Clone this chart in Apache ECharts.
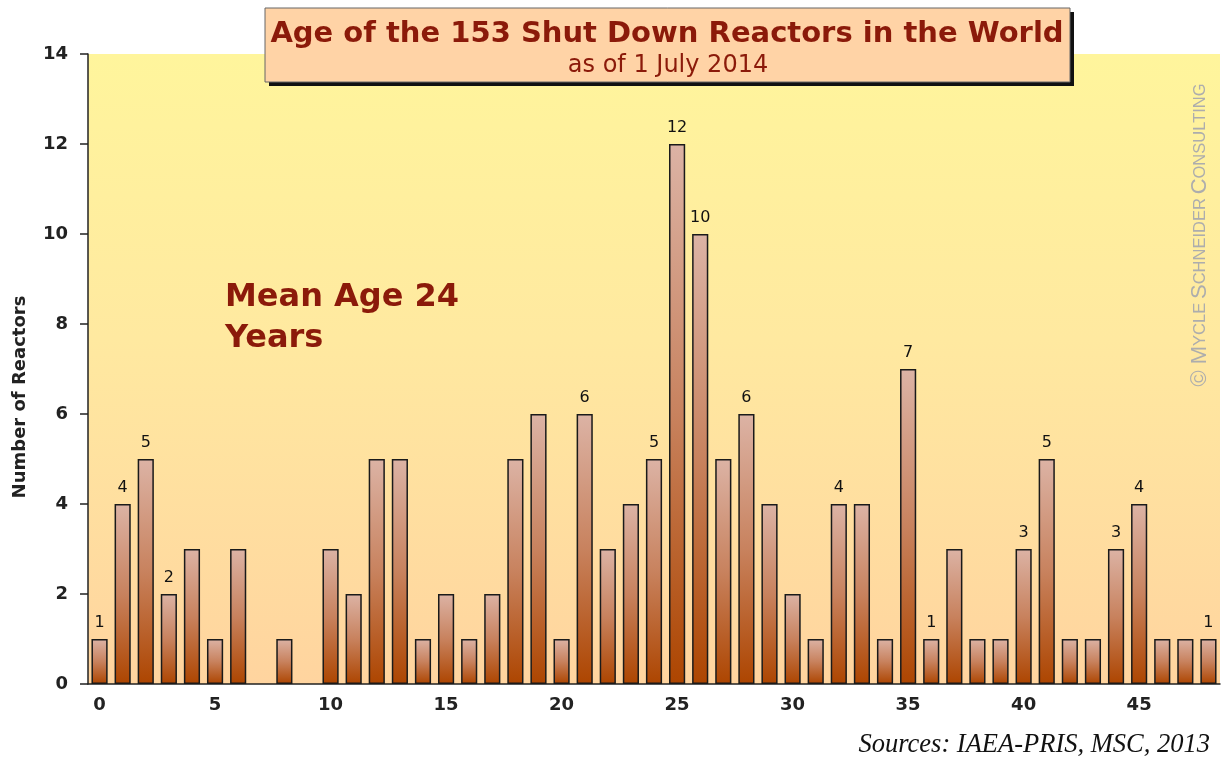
<!doctype html>
<html>

<head>
    <meta charset="utf-8">
    <title>Shut Down Reactors Age</title>
    <script src="https://cdn.jsdelivr.net/npm/echarts@6/dist/echarts.min.js"></script>
</head>

<body style="margin:0;background:#fff;">
    <div id="container" style="width:1224px;height:760px;"></div>

    <script type="text/javascript">
        // ages (years) 0..48
        var ages = [];
        for (var a = 0; a <= 48; a++) ages.push(String(a));
        // number of reactors per age
        var reactors = [1, 4, 5, 2, 3, 1, 3, 0, 1, 0,
            3, 2, 5, 5, 1, 2, 1, 2, 5, 6,
            1, 6, 3, 4, 5, 12, 10, 5, 6, 4,
            2, 1, 4, 4, 1, 7, 1, 3, 1, 1,
            3, 5, 1, 1, 3, 4, 1, 1, 1];
        // ages whose bar gets a value label
        var labeledAges = [0, 1, 2, 3, 21, 24, 25, 26, 28, 32, 35, 36, 40, 41, 44, 45, 48];

        var darkRed = '#8b1a0a';
        var axisFont = 'DejaVu Sans';

        var barData = reactors.map(function(v, i) {
            if (v === 0) return { value: v, itemStyle: { borderWidth: 0 } };
            return {
                value: v,
                label: { show: labeledAges.indexOf(i) >= 0 }
            };
        });

        var option = {
            animation: false,
            grid: {
                left: 88,
                right: 4,
                top: 54,
                bottom: 76,
                show: true,
                borderWidth: 0,
                backgroundColor: new echarts.graphic.LinearGradient(0, 0, 0, 1, [
                    { offset: 0, color: '#fff59c' },
                    { offset: 0.45, color: '#ffe9a0' },
                    { offset: 1, color: '#ffd49f' }
                ])
            },
            xAxis: {
                type: 'category',
                data: ages,
                axisLine: { lineStyle: { color: '#222', width: 1.5 } },
                axisTick: { interval: 0, length: 6, lineStyle: { color: '#777', width: 2 } },
                axisLabel: {
                    interval: 4,
                    margin: 12,
                    color: '#222',
                    fontFamily: axisFont,
                    fontWeight: 'bold',
                    fontSize: 18
                }
            },
            yAxis: {
                type: 'value',
                min: 0,
                max: 14,
                interval: 2,
                splitLine: { show: false },
                axisLine: { show: true, lineStyle: { color: '#222', width: 1.5 } },
                axisTick: { show: true, length: 8, lineStyle: { color: '#222', width: 1.5 } },
                axisLabel: {
                    margin: 20,
                    color: '#222',
                    fontFamily: axisFont,
                    fontWeight: 'bold',
                    fontSize: 18
                }
            },
            series: [{
                type: 'bar',
                data: barData,
                barWidth: '70%',
                itemStyle: {
                    color: new echarts.graphic.LinearGradient(0, 0, 0, 1, [
                        { offset: 0, color: '#dcb3a5' },
                        { offset: 0.5, color: '#c8825e' },
                        { offset: 1, color: '#ad4500' }
                    ]),
                    borderColor: '#1a1a1a',
                    borderWidth: 1.5
                },
                label: {
                    show: false,
                    position: 'top',
                    distance: 8,
                    color: '#111',
                    fontFamily: 'DejaVu Sans',
                    fontSize: 16
                }
            }],
            graphic: [{
                type: 'rect',
                shape: { x: 269, y: 12, width: 805, height: 74 },
                style: { fill: '#111' },
                z: 10
            }, {
                type: 'rect',
                shape: { x: 265, y: 8, width: 805, height: 74 },
                style: { fill: '#ffd3a6', stroke: '#666', lineWidth: 1 },
                z: 11
            }, {
                type: 'text',
                x: 667,
                y: 34,
                z: 12,
                style: {
                    text: 'Age of the 153 Shut Down Reactors in the World',
                    fill: darkRed,
                    fontFamily: 'DejaVu Sans',
                    fontWeight: 'bold',
                    fontSize: 29,
                    align: 'center',
                    verticalAlign: 'middle'
                }
            }, {
                type: 'text',
                x: 668,
                y: 66,
                z: 12,
                style: {
                    text: 'as of 1 July 2014',
                    fill: darkRed,
                    fontFamily: 'DejaVu Sans',
                    fontSize: 24,
                    align: 'center',
                    verticalAlign: 'middle'
                }
            }, {
                type: 'text',
                x: 20,
                y: 397,
                rotation: Math.PI / 2,
                z: 12,
                style: {
                    text: 'Number of Reactors',
                    fill: '#222',
                    fontFamily: axisFont,
                    fontWeight: 'bold',
                    fontSize: 18,
                    align: 'center',
                    verticalAlign: 'middle'
                }
            }, {
                type: 'text',
                x: 225,
                y: 277,
                z: 12,
                style: {
                    text: 'Mean Age 24\nYears',
                    fill: darkRed,
                    fontFamily: 'DejaVu Sans',
                    fontWeight: 'bold',
                    fontSize: 32,
                    lineHeight: 41
                }
            }, {
                type: 'text',
                x: 1210,
                y: 745,
                z: 12,
                style: {
                    text: 'Sources: IAEA-PRIS, MSC, 2013',
                    fill: '#111',
                    fontFamily: 'Liberation Serif',
                    fontStyle: 'italic',
                    fontSize: 26.5,
                    align: 'right',
                    verticalAlign: 'middle'
                }
            }, {
                type: 'text',
                x: 1200,
                y: 235,
                rotation: Math.PI / 2,
                z: 12,
                style: {
                    text: '{b|© M}{s|YCLE} {b|S}{s|CHNEIDER} {b|C}{s|ONSULTING}',
                    fill: '#adadad',
                    fontFamily: 'DejaVu Sans',
                    align: 'center',
                    verticalAlign: 'middle',
                    rich: {
                        b: { fontSize: 22, fill: '#adadad' },
                        s: { fontSize: 16.5, fill: '#adadad' }
                    }
                }
            }]
        };

        var myChart = echarts.init(document.getElementById('container'));
        myChart.setOption(option);
    </script>
</body>

</html>
